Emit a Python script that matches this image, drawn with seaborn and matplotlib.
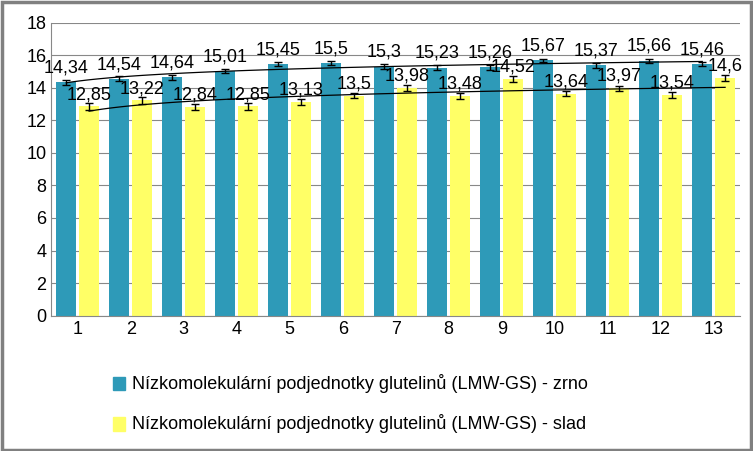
import numpy as np
import pandas as pd
import seaborn as sns
import matplotlib.pyplot as plt
from matplotlib.patches import Rectangle

categories = [str(i) for i in range(1, 14)]
zrno = [14.34, 14.54, 14.64, 15.01, 15.45, 15.5, 15.3, 15.23, 15.26, 15.67, 15.37, 15.66, 15.46]
slad = [12.85, 13.22, 12.84, 12.85, 13.13, 13.5, 13.98, 13.48, 14.52, 13.64, 13.97, 13.54, 14.6]
err_zrno = [0.15, 0.15, 0.15, 0.12, 0.12, 0.12, 0.15, 0.15, 0.15, 0.12, 0.15, 0.12, 0.12]
err_slad = [0.2, 0.2, 0.18, 0.2, 0.2, 0.15, 0.18, 0.2, 0.18, 0.15, 0.15, 0.2, 0.2]
s1 = "Nízkomolekulární podjednotky glutelinů (LMW-GS) - zrno"
s2 = "Nízkomolekulární podjednotky glutelinů (LMW-GS) - slad"

plt.rcParams["font.family"] = "Liberation Sans"
df = pd.DataFrame({"x": categories * 2, "y": zrno + slad,
                   "s": [s1] * 13 + [s2] * 13})

fig = plt.figure(figsize=(7.53, 4.51), dpi=100)
ax = fig.add_axes([0.068, 0.30, 0.915, 0.65])
sns.barplot(data=df, x="x", y="y", hue="s", palette=["#2E9AB8", "#FFFF66"], saturation=1,
            width=0.86, gap=0.12, ax=ax, legend=False, errorbar=None, zorder=2)
pos = np.arange(13)
off = 0.215
ax.errorbar(pos - off, zrno, yerr=err_zrno, fmt="none", ecolor="black", capsize=3, lw=1, zorder=3)
ax.errorbar(pos + off, slad, yerr=err_slad, fmt="none", ecolor="black", capsize=3, lw=1, zorder=3)
for i in range(13):
    ax.text(pos[i] - off, zrno[i] + 0.35, f"{zrno[i]:g}".replace(".", ","), ha="center", va="bottom", fontsize=13, zorder=4)
    ax.text(pos[i] + off, slad[i] + 0.2, f"{slad[i]:g}".replace(".", ","), ha="center", va="bottom", fontsize=13, zorder=4)

# logarithmic trend lines
xs = np.linspace(1, 13, 100)
for vals, o in [(zrno, -off), (slad, off)]:
    b, a = np.polyfit(np.log(np.arange(1, 14)), vals, 1)
    ax.plot(xs - 1 + o, a + b * np.log(xs), color="black", lw=0.9, zorder=4)

ax.set_ylim(0, 18)
ax.set_yticks(range(0, 19, 2))
ax.set_xlim(-0.5, 12.5)
ax.grid(axis="y", color="#888888", lw=0.8, zorder=0)
ax.set_xlabel("")
ax.set_ylabel("")
ax.tick_params(labelsize=13, length=0)
for sp in ["top", "right"]:
    ax.spines[sp].set_visible(False)
ax.spines["left"].set_color("#888888")
ax.spines["bottom"].set_color("#888888")

fig.patches.append(Rectangle((0.15, 0.135), 0.016, 0.03, transform=fig.transFigure, color="#2E9AB8"))
fig.patches.append(Rectangle((0.15, 0.045), 0.016, 0.03, transform=fig.transFigure, color="#FFFF66"))
fig.text(0.175, 0.15, s1, fontsize=13, va="center")
fig.text(0.175, 0.06, s2, fontsize=13, va="center")
fig.patches.append(Rectangle((0.002, 0.003), 0.995, 0.993, transform=fig.transFigure,
                             fill=False, edgecolor="#808080", lw=2.5))
fig.savefig("out.png", dpi=100)
